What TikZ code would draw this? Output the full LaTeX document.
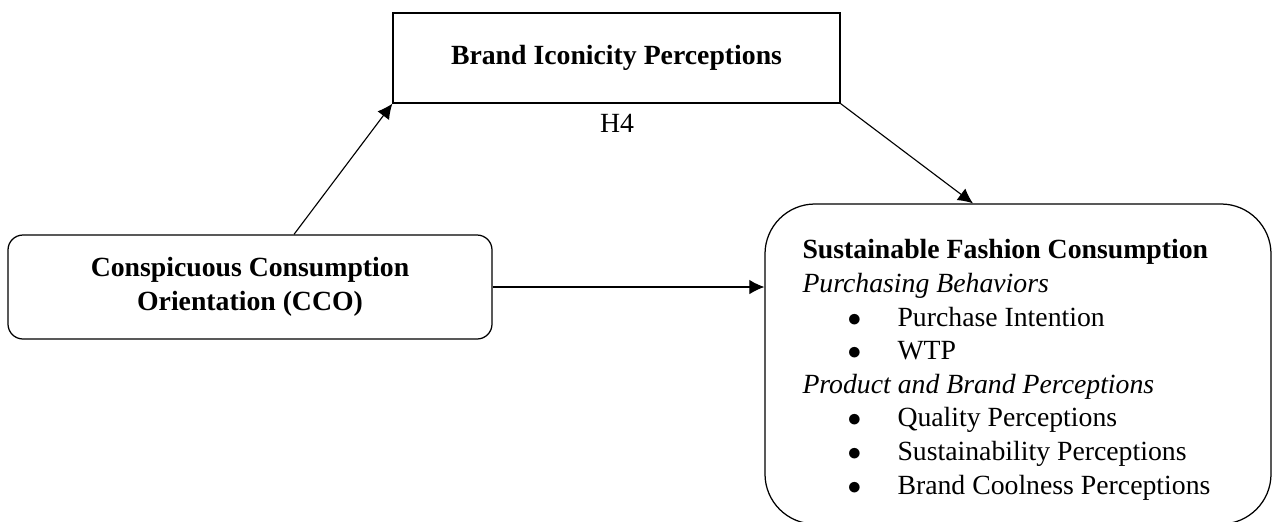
\documentclass[tikz,border=0pt]{standalone}
\usepackage{fontspec}
\setmainfont{Liberation Serif}
\usetikzlibrary{arrows.meta}

\newcommand{\figsize}{\fontsize{11.1}{13.45}\selectfont}
\newcommand{\sfcitem}[1]{\hspace*{18pt}\makebox[20pt][l]{$\bullet$}#1}

\tikzset{
	iconbox/.style={draw, line width=0.5pt, minimum width=178.8pt, minimum height=36pt, inner sep=0pt, font=\figsize\bfseries},
	ccobox/.style={draw, line width=0.5pt, rounded corners=6pt, minimum width=193.6pt, minimum height=41.6pt, inner sep=0pt, align=center, font=\figsize\bfseries},
	sfcbox/.style={draw, line width=0.5pt, rounded corners=20pt, minimum width=202.4pt, minimum height=128pt, inner sep=0pt},
	link/.style={line width=0.45pt, -{Latex[length=6pt, width=5.8pt]}}
}

\begin{document}
\begin{tikzpicture}[x=0.4pt, y=-0.4pt]
	
	\useasboundingbox (0,0) rectangle (1272,521);
	
	% Boxes
	\node[iconbox] (bip) at (616.5,58) {Brand Iconicity Perceptions};
	\node[ccobox] (cco) at (250,287) {Conspicuous Consumption\\Orientation (CCO)};
	\node[sfcbox] (sfc) at (1018,364) {};
	
	% Outcome text
	\node[anchor=north west, align=left, inner sep=0pt, font=\figsize] (sfctxt) at (802,239)
	{\textbf{Sustainable Fashion Consumption}\\
	 \textit{Purchasing Behaviors}\\
	 \sfcitem{Purchase Intention}\\
	 \sfcitem{WTP}\\
	 \textit{Product and Brand Perceptions}\\
	 \sfcitem{Quality Perceptions}\\
	 \sfcitem{Sustainability Perceptions}\\
	 \sfcitem{Brand Coolness Perceptions}};
	
	% Hypothesis label
	\node[font=\figsize] (h4) at (617,123) {H4};
	
	% Paths
	\draw[link] ([xshift=17.6pt]cco.north) -- (bip.south west);
	\draw[link] (bip.south east) -- ([xshift=-18pt]sfc.north);
	\draw[link] (cco.east) -- (cco.east -| sfc.west);
	
\end{tikzpicture}
\end{document}
